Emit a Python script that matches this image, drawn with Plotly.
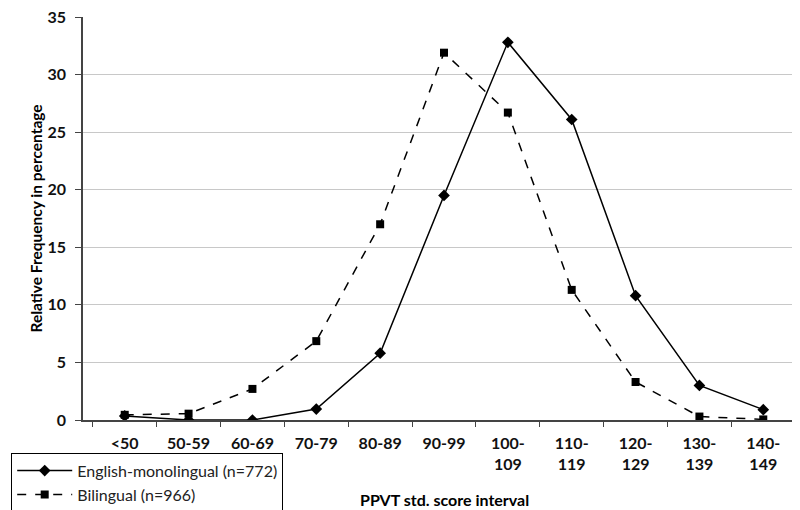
import plotly.graph_objects as go

# score intervals (x categories)
intervals = ['<50', '50-59', '60-69', '70-79', '80-89', '90-99',
             '100-<br>109', '110-<br>119', '120-<br>129', '130-<br>139', '140-<br>149']

# relative frequency in percentage
english_mono = [0.35, 0.0, 0.0, 0.95, 5.8, 19.5, 32.8, 26.1, 10.8, 3.0, 0.9]
bilingual = [0.45, 0.55, 2.7, 6.85, 17.0, 31.9, 26.7, 11.3, 3.3, 0.3, 0.05]

fig = go.Figure()
fig.add_trace(go.Scatter(x=intervals, y=english_mono, mode='lines+markers',
                         name='English-monolingual (n=772)',
                         line=dict(color='black', width=1.5),
                         marker=dict(symbol='diamond', size=9, color='black')))
fig.add_trace(go.Scatter(x=intervals, y=bilingual, mode='lines+markers',
                         name='Bilingual (n=966)',
                         line=dict(color='black', width=1.5, dash='dash'),
                         marker=dict(symbol='square', size=8, color='black')))

fig.update_layout(
    width=800, height=510,
    margin=dict(l=75, r=3, t=9, b=98, autoexpand=False),
    plot_bgcolor='white', paper_bgcolor='white',
    font=dict(family='Lato', size=13, color='black'),
    legend=dict(xref='container', yref='container', x=0.004, y=0.128,
                xanchor='left', yanchor='top', itemwidth=55,
                bordercolor='black', borderwidth=1, bgcolor='white',
                font=dict(size=16, color='#222'), tracegroupgap=0),
    showlegend=True,
)
# axis titles as annotations so they sit where the reference has them
# plot area: 722 px wide from x=75, 403 px tall from y=9
fig.add_annotation(text='<b>PPVT std. score interval</b>', xref='paper', yref='paper',
                   x=0.5, y=(412 - 491) / 403, xanchor='center', yanchor='middle',
                   showarrow=False, font=dict(size=16))
fig.add_annotation(text='<b>Relative Frequency in percentage</b>', xref='paper', yref='paper',
                   x=(27 - 75) / 722, y=0.5, xanchor='center', yanchor='middle',
                   textangle=-90, showarrow=False, font=dict(size=15.5))

fig.update_xaxes(type='category', showline=True, linecolor='#444', linewidth=1.5,
                 ticks='outside', tickson='boundaries', ticklen=5, tickcolor='#444',
                 tickangle=0, automargin=False, ticklabelstandoff=8,
                 tickfont=dict(size=16, weight='bold', color='#111'),
                 showgrid=False)
fig.update_yaxes(range=[0, 35], dtick=5, showline=True, linecolor='#444', linewidth=1.5,
                 ticks='outside', ticklen=6, tickcolor='#444', automargin=False,
                 ticklabeloverflow='allow', ticklabelstandoff=6,
                 showgrid=True, gridcolor='#c8c8c8', gridwidth=1,
                 tickfont=dict(size=16, weight='bold', color='#111'),
                 zeroline=False)

fig.write_html("out.html")
